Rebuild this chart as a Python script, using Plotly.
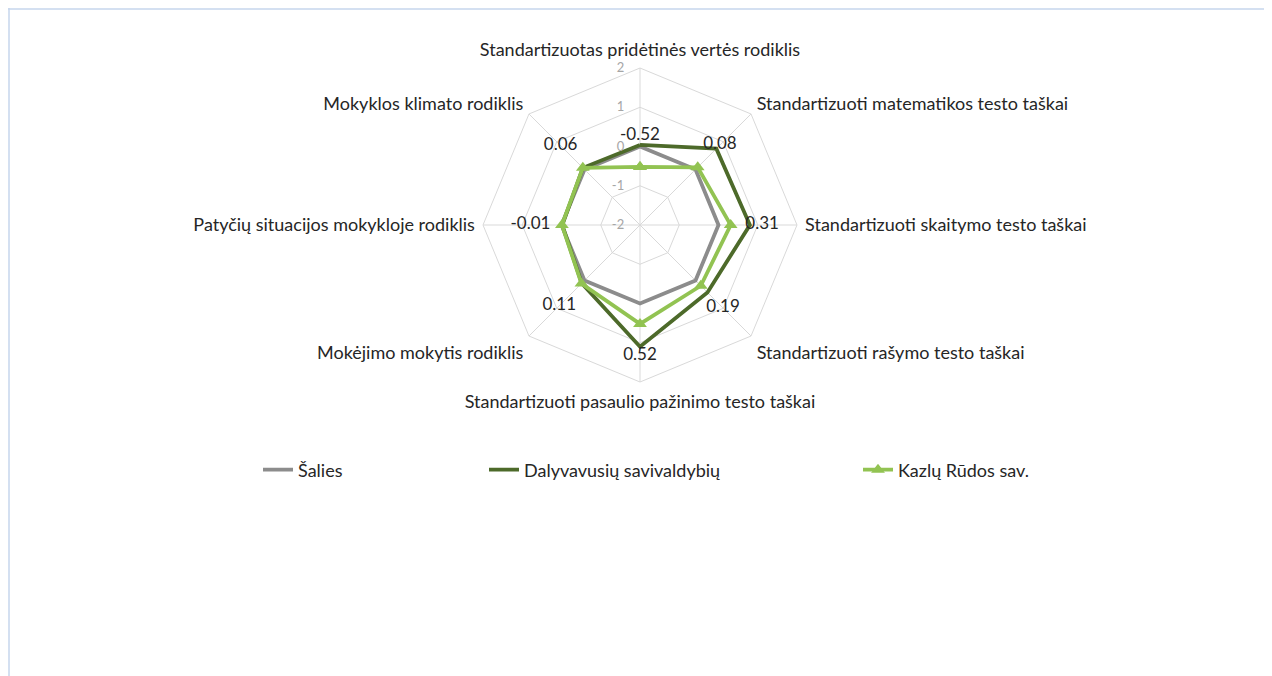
import plotly.graph_objects as go

W, H = 1272, 676

categories = [
    "Standartizuotas pridėtinės vertės rodiklis",
    "Standartizuoti matematikos testo taškai",
    "Standartizuoti skaitymo testo taškai",
    "Standartizuoti rašymo testo taškai",
    "Standartizuoti pasaulio pažinimo testo taškai",
    "Mokėjimo mokytis rodiklis",
    "Patyčių situacijos mokykloje rodiklis",
    "Mokyklos klimato rodiklis",
]
salies = [0, 0, 0, 0, 0, 0, 0, 0]
dalyvavusiu = [0.04, 0.75, 0.8, 0.43, 1.1, 0.1, -0.02, 0.06]
kazlu = [-0.52, 0.08, 0.31, 0.19, 0.52, 0.11, -0.01, 0.06]
series_names = ["Šalies", "Dalyvavusių savivaldybių", "Kazlų Rūdos sav."]
radial_ticks = [-2, -1, 0, 1, 2]

RMIN, RMAX = radial_ticks[0], radial_ticks[-1]
LABEL_GAP = 0.8  # outward offset of data labels (axis units)

FONT = "Lato"
GRAY = "#8c8c8c"
DARK = "#4d6a2a"
LIGHT = "#92c352"
GRID = "#d9d9d9"
TXT = "#262626"

# page body has an 8px margin; convert screen px to paper fractions
OFF = 8
def px(sx):
    return (sx - OFF) / W
def py(sy):
    return 1 - (sy - OFF) / H

def shift(v):
    # plotly polar hides points when the radial range starts below 0, so plot on a 0-based scale
    return [x - RMIN for x in v]

def closed(v):
    return list(v) + [v[0]]

theta = closed(categories)

fig = go.Figure()
fig.add_trace(go.Scatterpolar(r=closed(shift(salies)), theta=theta, mode="lines",
                              name=series_names[0], line=dict(color=GRAY, width=3.8),
                              legend="legend", hoverinfo="skip"))
fig.add_trace(go.Scatterpolar(r=closed(shift(dalyvavusiu)), theta=theta, mode="lines",
                              name=series_names[1], line=dict(color=DARK, width=3.8),
                              legend="legend2", hoverinfo="skip"))
fig.add_trace(go.Scatterpolar(r=closed(shift(kazlu)), theta=theta, mode="lines+markers",
                              name=series_names[2], line=dict(color=LIGHT, width=3.8),
                              marker=dict(symbol="triangle-up", size=12, color=LIGHT),
                              legend="legend3", hoverinfo="skip"))
# data labels for Kazlų Rūdos sav.
fig.add_trace(go.Scatterpolar(r=[x + LABEL_GAP for x in shift(kazlu)], theta=categories, mode="text",
                              text=[f"{v:.2f}" for v in kazlu], showlegend=False,
                              textfont=dict(family=FONT, size=17, color=TXT),
                              hoverinfo="skip"))

PAD = "\u00a0" * 4  # extra gap between the radial labels and the vertical spoke
cx, cy, R = 640, 225, 157
legend_font = dict(family=FONT, size=18, color=TXT)
fig.update_layout(
    width=W, height=H,
    margin=dict(l=0, r=0, t=0, b=0),
    paper_bgcolor="white",
    font=dict(family=FONT, size=16, color=TXT),
    polar=dict(
        domain=dict(x=[px(cx - R), px(cx + R)], y=[py(cy + R), py(cy - R)]),
        bgcolor="white",
        gridshape="linear",
        radialaxis=dict(range=[0, RMAX - RMIN], tickvals=shift(radial_ticks),
                        ticktext=[f"{t}{PAD}" for t in radial_ticks],
                        side="counterclockwise", tickangle=90, angle=90,
                        showline=False, gridcolor=GRID, ticks="",
                        tickfont=dict(family=FONT, size=13, color="#a6a6a6")),
        angularaxis=dict(rotation=90, direction="clockwise", gridcolor=GRID,
                         linecolor=GRID, ticks="outside", ticklen=4, tickcolor="rgba(0,0,0,0)",
                         tickfont=dict(family=FONT, size=18, color=TXT)),
    ),
    legend=dict(orientation="h", x=px(258), y=py(470), xanchor="left", yanchor="middle",
                font=legend_font, bgcolor="rgba(0,0,0,0)"),
    legend2=dict(orientation="h", x=px(484), y=py(470), xanchor="left", yanchor="middle",
                 font=legend_font, bgcolor="rgba(0,0,0,0)"),
    legend3=dict(orientation="h", x=px(858), y=py(470), xanchor="left", yanchor="middle",
                 font=legend_font, bgcolor="rgba(0,0,0,0)"),
    shapes=[
        dict(type="line", xref="paper", yref="paper", x0=0, x1=1, y0=1 - 1 / H, y1=1 - 1 / H,
             line=dict(color="#c6d6ec", width=1.5)),
        dict(type="line", xref="paper", yref="paper", x0=1 / W, x1=1 / W, y0=0, y1=1,
             line=dict(color="#c6d6ec", width=1.5)),
    ],
)

fig.write_html("out.html")
